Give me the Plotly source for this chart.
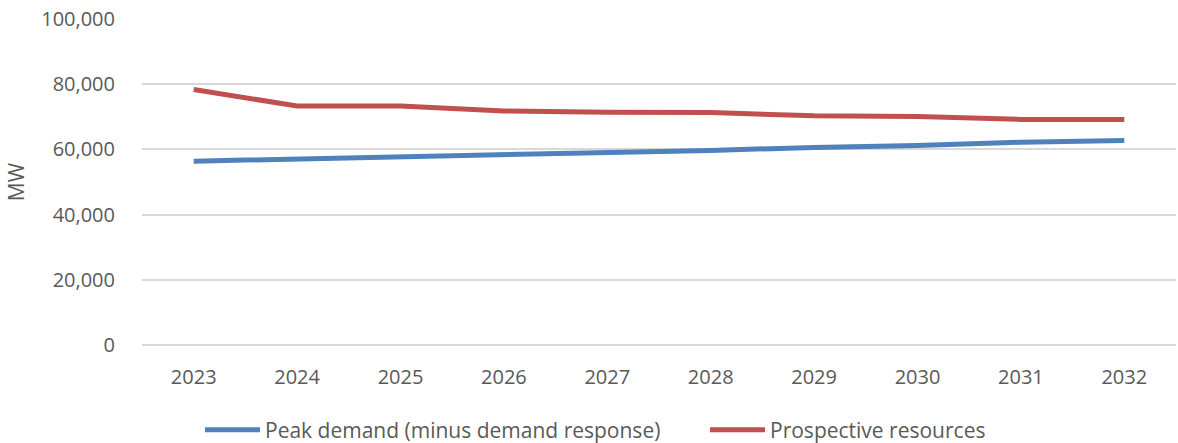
import plotly.graph_objects as go

years = ["2023", "2024", "2025", "2026", "2027", "2028", "2029", "2030", "2031", "2032"]
peak_demand = [56400, 57000, 57600, 58200, 58900, 59700, 60600, 61200, 62200, 62700]
prospective_resources = [78400, 73300, 73300, 71800, 71400, 71300, 70300, 70100, 69200, 69200]
y_ticks = [0, 20000, 40000, 60000, 80000, 100000]

FONT = "Open Sans, Lato, sans-serif"
GRAY = "#595959"
GRID = "#D9D9D9"

fig = go.Figure()
fig.add_trace(go.Scatter(
    x=years, y=peak_demand, mode="lines",
    name="Peak demand (minus demand response)",
    line=dict(color="#4F81BD", width=5),
))
fig.add_trace(go.Scatter(
    x=years, y=prospective_resources, mode="lines",
    name="Prospective resources",
    line=dict(color="#C0504D", width=5),
))

fig.update_layout(
    width=1178, height=443,
    margin=dict(l=142, r=2, t=19, b=98, autoexpand=False),
    paper_bgcolor="white", plot_bgcolor="white",
    font=dict(family=FONT, color=GRAY, size=20),
    showlegend=True,
    legend=dict(
        orientation="h", x=0.1698, xref="container", xanchor="left",
        y=0.029, yref="container", yanchor="middle",
        font=dict(family=FONT, size=21, color=GRAY),
        itemwidth=55, entrywidth=435, entrywidthmode="pixels",
        tracegroupgap=0,
    ),
    xaxis=dict(
        type="category", range=[-0.5, 9.5], automargin=False,
        showgrid=False, showline=False, zeroline=False,
        ticks="outside", ticklen=14, tickcolor="rgba(0,0,0,0)",
        tickfont=dict(family=FONT, size=20, color=GRAY),
    ),
    yaxis=dict(
        range=[0, 100000], tickvals=y_ticks, tickformat=",d", automargin=False,
        showgrid=True, gridcolor=GRID, gridwidth=2,
        zeroline=True, zerolinecolor=GRID, zerolinewidth=2,
        showline=False,
        ticks="outside", ticklen=22, tickcolor="rgba(0,0,0,0)",
        tickfont=dict(family=FONT, size=20, color=GRAY),
        title=dict(text="MW", font=dict(family=FONT, size=21, color=GRAY), standoff=10),
    ),
)

fig.write_html("out.html")
